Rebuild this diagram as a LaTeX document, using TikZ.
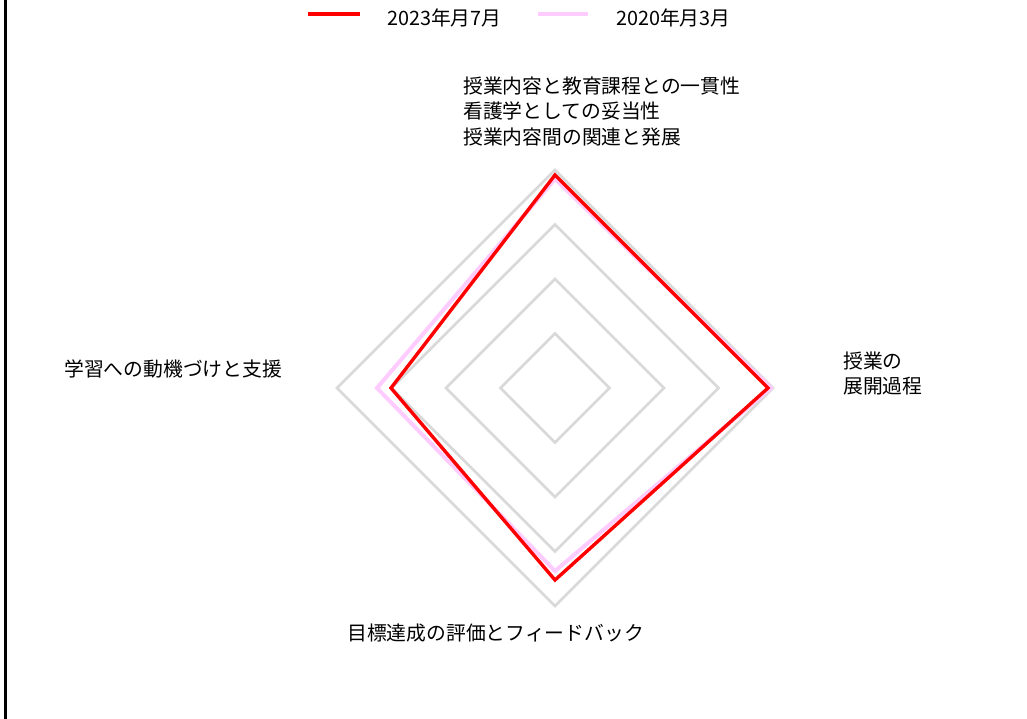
\documentclass[tikz,border=0pt]{standalone}
\usepackage{fontspec}
\usetikzlibrary{calc}
\setmainfont{Noto Sans CJK JP}
\begin{document}
\begin{tikzpicture}[x=1pt,y=-1pt,
  grid/.style={draw=black!15, line width=2.6pt, line join=miter},
  red23/.style={draw=red, line width=3.4pt, line join=miter},
  pink20/.style={draw={rgb,255:red,255;green,204;blue,255}, line width=4pt, line join=miter},
  lbl/.style={inner sep=0pt, anchor=west, align=left, font=\fontsize{19.8}{25.5}\selectfont}]
\useasboundingbox (0,0) rectangle (1027,719);
\fill[white] (0,0) rectangle (1027,719);
\draw[line width=2.5pt] (5.5,0) -- (5.5,719);
\coordinate (c) at (555,388);
% grid
\foreach \r in {54.5,109,163.5,218}{
  \draw[grid] ($(c)+(0,-\r)$) -- ($(c)+(\r,0)$) -- ($(c)+(0,\r)$) -- ($(c)+(-\r,0)$) -- cycle;
}
% 2020
\coordinate (pt) at ($(c)+(0,-209)$);
\coordinate (pr) at ($(c)+(216,0)$);
\coordinate (pb) at ($(c)+(0,183)$);
\coordinate (pl) at ($(c)+(-178,0)$);
\draw[pink20] (pt) -- (pr) -- (pb) -- (pl) -- cycle;
% 2023
\coordinate (rt) at ($(c)+(0,-213)$);
\coordinate (rr) at ($(c)+(213,0)$);
\coordinate (rb) at ($(c)+(0,192)$);
\coordinate (rl) at ($(c)+(-164,0)$);
\draw[red23] (rt) -- (rr) -- (rb) -- (rl) -- cycle;
% labels
\node[lbl] (ltop) at (463,111.5) {授業内容と教育課程との一貫性\\看護学としての妥当性\\授業内容間の関連と発展};
\node[lbl] (lright) at (843,373.5) {授業の\\展開過程};
\node[lbl] (lleft) at (64,369) {学習への動機づけと支援};
\node[lbl] (lbottom) at (347,633) {目標達成の評価とフィードバック};
% legend
\coordinate (l1a) at (308,14);
\coordinate (l1b) at (360,14);
\draw[red23] (l1a) -- (l1b);
\node[lbl] (leg1) at (387,18) {2023年月7月};
\coordinate (l2a) at (538,14);
\coordinate (l2b) at (588,14);
\draw[pink20] (l2a) -- (l2b);
\node[lbl] (leg2) at (616,18) {2020年月3月};
\end{tikzpicture}
\end{document}
